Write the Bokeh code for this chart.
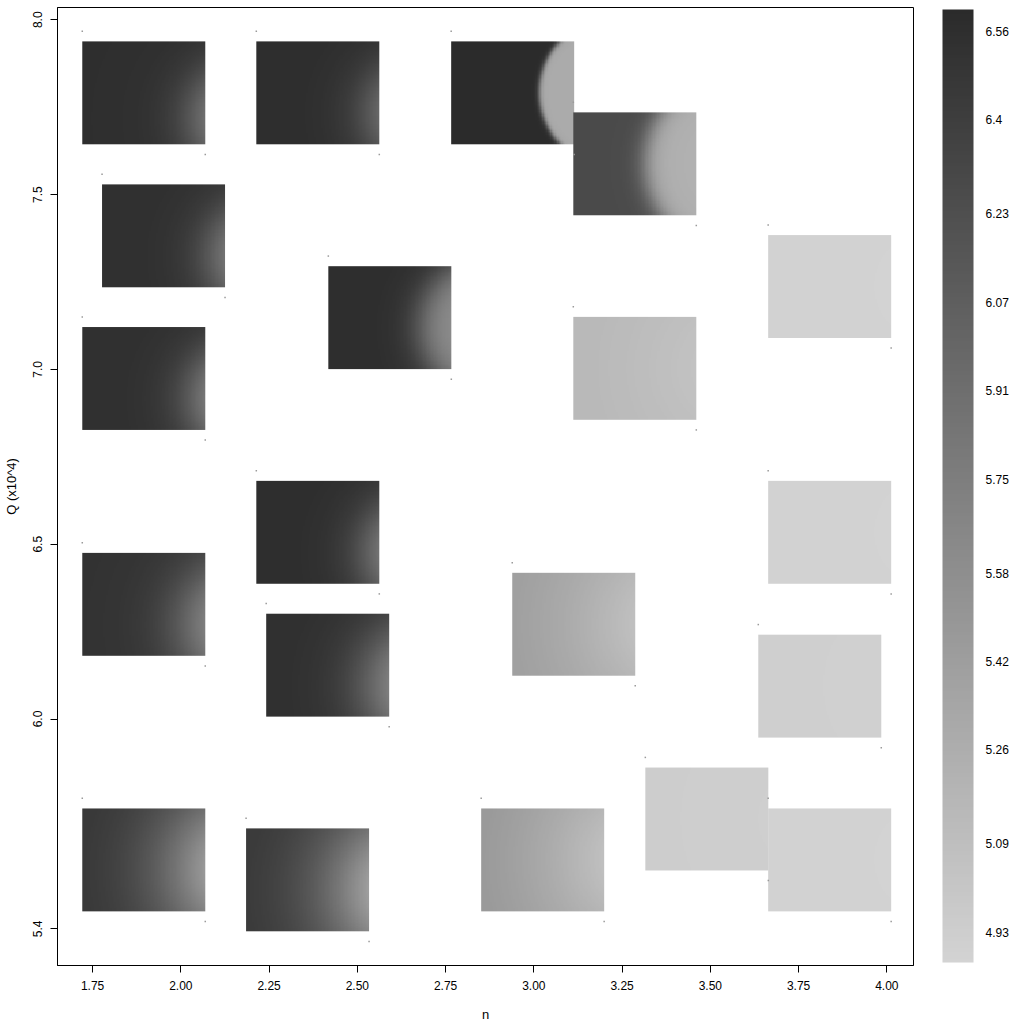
import numpy as np
from bokeh.plotting import figure
from bokeh.models import (LinearColorMapper, ColorBar, FixedTicker, CustomJSTickFormatter,
                          Range1d)
from bokeh.embed import file_html
from bokeh.resources import INLINE

# ---------------- data ----------------
# tile centres (n, Q x10^4)
tile_n = [1.895, 2.388, 2.940, 3.286, 1.951, 2.592, 3.838, 1.895, 3.286, 2.388,
          3.838, 1.895, 3.113, 2.416, 3.810, 3.490, 1.895, 2.359, 3.025, 3.838]
tile_q = [7.791, 7.791, 7.791, 7.588, 7.382, 7.148, 7.237, 6.974, 7.003, 6.534,
          6.534, 6.328, 6.271, 6.154, 6.094, 5.714, 5.597, 5.540, 5.597, 5.597]
# value at the left edge and at the right edge (middle) of each tile
tile_v_left = [6.56, 6.57, 6.60, 6.28, 6.55, 6.57, 4.89, 6.55, 5.15, 6.57,
               4.89, 6.52, 5.40, 6.55, 4.92, 4.94, 6.45, 6.43, 5.46, 4.89]
tile_v_right = [5.89, 5.97, 5.29, 5.23, 5.85, 5.62, 4.88, 5.81, 5.05, 5.85,
                4.88, 5.73, 5.07, 5.73, 4.91, 4.92, 5.46, 5.40, 5.07, 4.88]

x_ticks = [1.75, 2.00, 2.25, 2.50, 2.75, 3.00, 3.25, 3.50, 3.75, 4.00]
y_ticks = [5.4, 6.0, 6.5, 7.0, 7.5, 8.0]
cb_ticks = [4.93, 5.09, 5.26, 5.42, 5.58, 5.75, 5.91, 6.07, 6.23, 6.4, 6.56]
cb_low, cb_high = 4.875, 6.60

# ---------------- style ----------------
# shape of the brightness field in each tile: radius, softness, vertical centre
shape_r = [0.40, 0.38, 0.59, 0.72, 0.40, 0.55, 0.5, 0.40, 0.5, 0.40,
           0.5, 0.45, 0.5, 0.45, 0.5, 0.5, 0.45, 0.45, 0.5, 0.5]
shape_s = [0.12, 0.12, 0.012, 0.05, 0.12, 0.08, 0.5, 0.12, 0.4, 0.12,
           0.5, 0.15, 0.4, 0.15, 0.5, 0.5, 0.25, 0.25, 0.4, 0.5]
shape_cw = [0.75, 0.7, 0.5, 0.5, 0.7, 0.6, 0.5, 0.7, 0.5, 0.7,
            0.5, 0.7, 0.5, 0.7, 0.5, 0.5, 0.6, 0.6, 0.5, 0.5]
TW, TH = 0.3484, 0.2943      # tile size in data units
DOT_OFF = 0.029
FONT = "Liberation Sans"

palette = ["#%02x%02x%02x" % (g, g, g) for g in
           [int(round(211 - i * 168 / 255)) for i in range(256)]]
mapper = LinearColorMapper(palette=palette, low=cb_low, high=cb_high)

p = figure(width=1024, height=1024, output_backend="svg", toolbar_location=None,
           x_range=Range1d(1.6506, 4.0755), y_range=Range1d(5.295, 8.0351),
           min_border_left=57, min_border_right=111, min_border_top=7, min_border_bottom=58)
p.grid.visible = False
p.outline_line_color = "black"
p.outline_line_width = 1
p.background_fill_color = "white"

NX, NY = 90, 76
cu = 1.3
aspect = 103.0 / 123.0
uu = (np.arange(NX) + 0.5) / NX
ww = 1 - (np.arange(NY) + 0.5) / NY   # rows bottom->top, w measured from top
U, W = np.meshgrid(uu, ww)

def logistic(d, r, s):
    return 1.0 / (1.0 + np.exp(np.clip((d - r) / s, -60, 60)))

images, xs, ys = [], [], []
for i in range(len(tile_n)):
    r, s, cw = shape_r[i], shape_s[i], shape_cw[i]
    d = np.sqrt((U - cu) ** 2 + ((W - cw) * aspect) ** 2)
    L = logistic(d, r, s)
    L0 = logistic(np.array(cu), r, s)
    L1 = logistic(np.array(cu - 1.0), r, s)
    g = np.clip((L - L0) / (L1 - L0), 0, 1.05)
    img = tile_v_left[i] + (tile_v_right[i] - tile_v_left[i]) * g
    images.append(img.astype(np.float32))
    xs.append(tile_n[i] - TW / 2)
    ys.append(tile_q[i] - TH / 2)

p.image(image=images, x=xs, y=ys, dw=[TW] * len(xs), dh=[TH] * len(xs),
        color_mapper=mapper)

# small corner dots
dot_x = [n - TW / 2 for n in tile_n] + [n + TW / 2 for n in tile_n]
dot_y = [q + TH / 2 + DOT_OFF for q in tile_q] + [q - TH / 2 - DOT_OFF for q in tile_q]
p.scatter(dot_x, dot_y, marker="square", size=1.5, fill_color="#9a9a9a",
          line_color=None)

# axes
p.xaxis.ticker = FixedTicker(ticks=x_ticks)
p.xaxis.formatter = CustomJSTickFormatter(code="return tick.toFixed(2)")
p.yaxis.ticker = FixedTicker(ticks=y_ticks)
p.yaxis.formatter = CustomJSTickFormatter(code="return tick.toFixed(1)")
p.yaxis.major_label_orientation = "vertical"
for ax in (p.xaxis[0], p.yaxis[0]):
    ax.axis_line_color = "black"
    ax.major_tick_line_color = "black"
    ax.major_tick_out = 7
    ax.major_tick_in = 0
    ax.minor_tick_line_color = None
    ax.major_label_text_font = FONT
    ax.major_label_text_font_size = "12px"
    ax.major_label_text_color = "black"
    ax.axis_label_text_font = FONT
    ax.axis_label_text_font_size = "13px"
    ax.axis_label_text_font_style = "normal"
    ax.axis_label_text_color = "black"
p.xaxis.axis_label = "n"
p.yaxis.axis_label = "Q (x10^4)"
p.xaxis.major_label_standoff = 8
p.xaxis.axis_label_standoff = 14
p.yaxis.major_label_standoff = 8
p.yaxis.axis_label_standoff = 12

cb = ColorBar(color_mapper=mapper, ticker=FixedTicker(ticks=cb_ticks),
              formatter=CustomJSTickFormatter(code="return (Math.round(tick*100)/100).toString()"),
              width=31, height=953, label_standoff=12, padding=0, margin=0,
              location=(29, 3),
              major_label_text_font=FONT, major_label_text_font_size="12px",
              major_label_text_color="black",
              major_tick_line_color=None, minor_tick_line_color=None,
              bar_line_color=None, border_line_color=None,
              background_fill_alpha=0)
p.add_layout(cb, "right")

open("out.html", "w").write(file_html(p, INLINE))
